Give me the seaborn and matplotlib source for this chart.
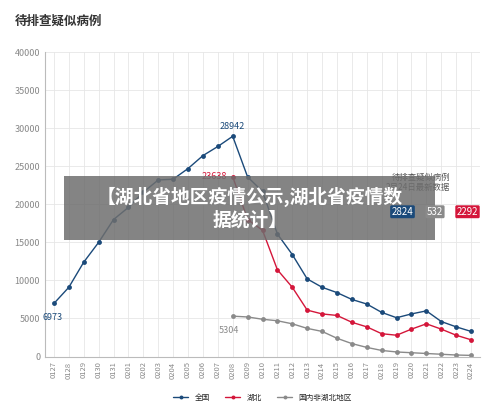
import matplotlib
matplotlib.use("Agg")
import matplotlib.pyplot as plt
import seaborn as sns
import pandas as pd

dates = ["0127", "0128", "0129", "0130", "0131", "0201", "0202", "0203", "0204", "0205",
         "0206", "0207", "0208", "0209", "0210", "0211", "0212", "0213", "0214", "0215",
         "0216", "0217", "0218", "0219", "0220", "0221", "0222", "0223", "0224"]
national = [6973, 9100, 12400, 15000, 18000, 19600, 21600, 23200, 23300, 24700,
            26400, 27600, 28942, 23600, 21700, 16100, 13400, 10200, 9100, 8400,
            7500, 6900, 5800, 5100, 5600, 6000, 4600, 3900, 3300]
hubei_dates = dates[12:]
hubei = [23638, 18000, 16600, 11400, 9100, 6100, 5600, 5400, 4500, 3900,
         3000, 2800, 3600, 4300, 3600, 2800, 2200]
other = [5304, 5200, 4900, 4700, 4300, 3700, 3300, 2400, 1700, 1200,
         800, 600, 500, 400, 300, 200, 150]

c_nat, c_hb, c_oth = "#1b4a7a", "#d4163a", "#8a8a8a"

sns.set_style("whitegrid")
plt.rcParams['font.family'] = ['Noto Sans CJK SC', 'DejaVu Sans']

fig, ax = plt.subplots(figsize=(5, 4.17), dpi=100)
fig.subplots_adjust(left=0.09, right=0.96, top=0.875, bottom=0.145)

x = list(range(len(dates)))
xh = x[12:]
df = pd.DataFrame({"x": x, "v": national})
sns.lineplot(data=df, x="x", y="v", ax=ax, color=c_nat, marker="o", markersize=3.5,
             markeredgewidth=0, lw=1, label="全国")
sns.lineplot(x=xh, y=hubei, ax=ax, color=c_hb, marker="o", markersize=3.5,
             markeredgewidth=0, lw=1, label="湖北")
sns.lineplot(x=xh, y=other, ax=ax, color=c_oth, marker="o", markersize=3.5,
             markeredgewidth=0, lw=1, label="国内非湖北地区")

ax.set_xlim(-0.6, len(dates) - 0.4)
ax.set_ylim(0, 40000)
ax.set_yticks(range(0, 40001, 5000))
ax.set_xticks(x)
ax.set_xticklabels(dates, rotation=90, fontsize=5.5, color="#888888")
ax.tick_params(axis="y", labelsize=6.5, colors="#888888")
ax.tick_params(length=0)
ax.set_xlabel("")
ax.set_ylabel("")
ax.grid(color="#e6e6e6", lw=0.6)
for s in ["top", "right"]:
    ax.spines[s].set_visible(False)
for s in ["left", "bottom"]:
    ax.spines[s].set_color("#bbbbbb")

ax.annotate("6973", (0, national[0]), xytext=(-8, -12), textcoords="offset points",
            fontsize=6.5, color=c_nat)
ax.annotate("28942", (12, national[12]), xytext=(0, 5), textcoords="offset points",
            fontsize=6.5, color=c_nat, ha="center")
ax.annotate("23638", (12, hubei[0]), xytext=(-4, -2), textcoords="offset points",
            fontsize=6.5, color=c_hb, ha="right")
ax.annotate("5304", (12, other[0]), xytext=(-3, -12), textcoords="offset points",
            fontsize=6.5, color=c_oth, ha="center")

ax.legend(loc="upper center", bbox_to_anchor=(0.5, -0.1), ncol=3, frameon=False,
          fontsize=5.5, handlelength=2, markerscale=0.8)

fig.text(0.03, 0.94, "待排查疑似病例", fontsize=9, fontweight="bold", color="#333333")

# right-side info
fig.text(0.9, 0.545, "待排查疑似病例\n2月24日最新数据", fontsize=6, color="#555555",
         ha="right", linespacing=1.1)
for txt, col, xx in [("2824", c_nat, 0.805), ("532", c_oth, 0.87), ("2292", c_hb, 0.935)]:
    fig.text(xx, 0.485, txt, fontsize=7, color="white", ha="center", zorder=7,
             bbox=dict(boxstyle="round,pad=0.15", fc=col, ec="none"))

# overlay banner
fig.patches.append(plt.Rectangle((0.128, 0.425), 0.742, 0.152, transform=fig.transFigure,
                                 fc="#6e6e6e", alpha=0.85, ec="none", zorder=5))
fig.text(0.5, 0.5, "【湖北省地区疫情公示,湖北省疫情数\n据统计】", fontsize=13.5,
         fontweight="bold", color="white", ha="center", va="center", zorder=6,
         linespacing=1.25)

fig.savefig("out.png", dpi=100)
